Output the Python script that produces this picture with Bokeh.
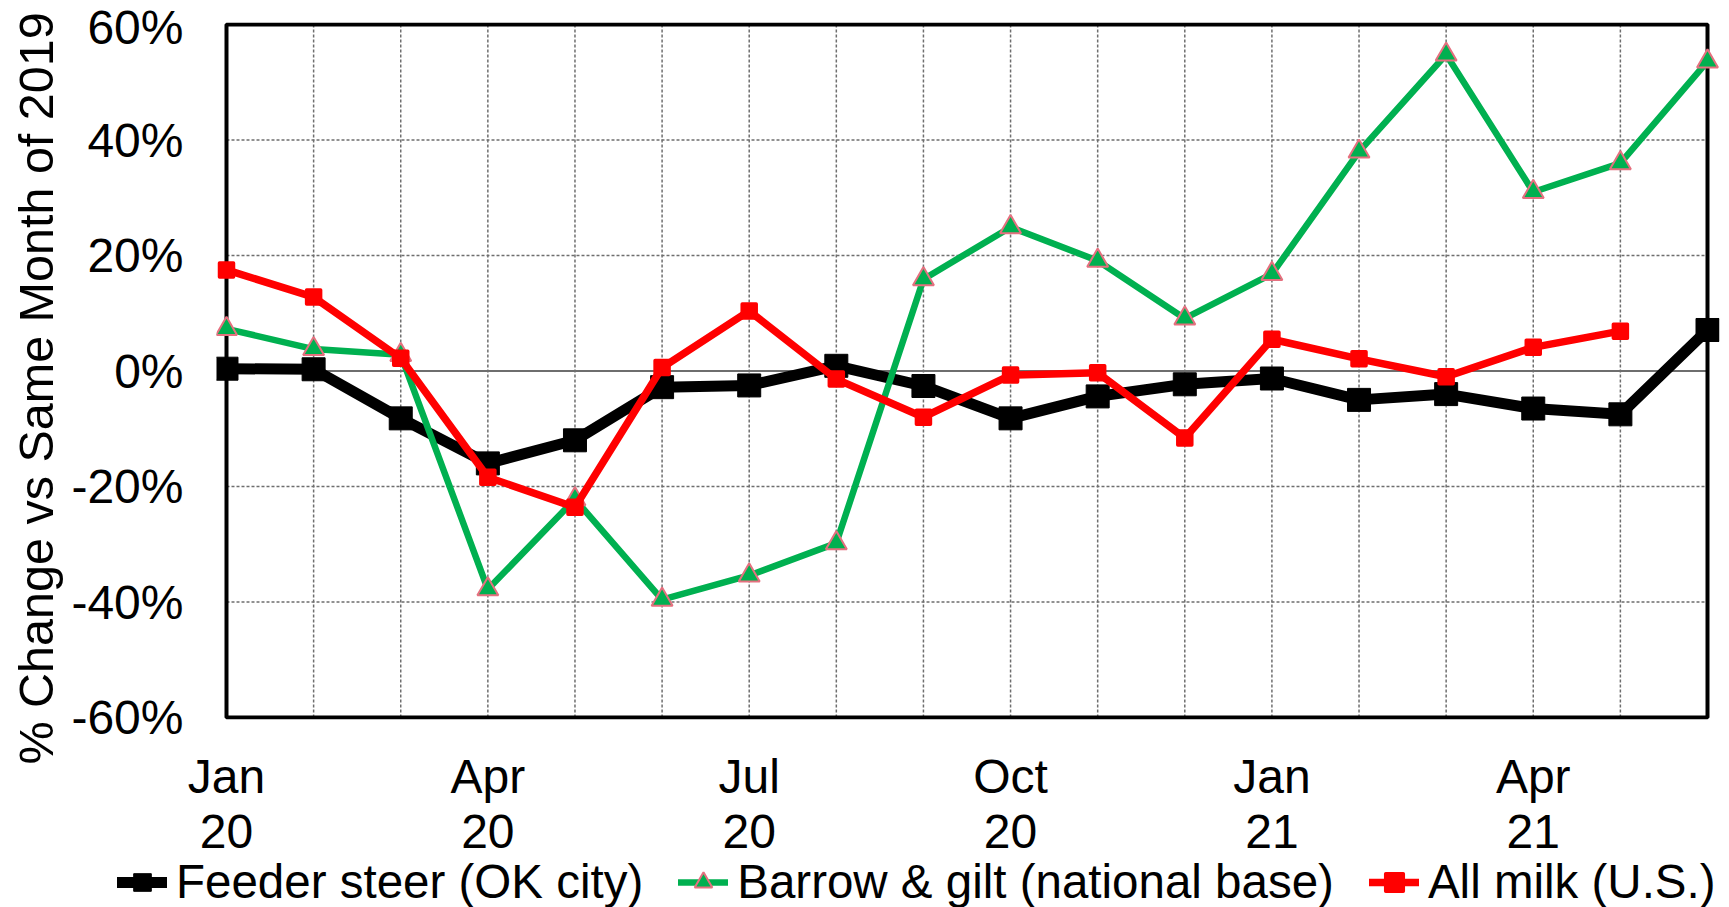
from bokeh.plotting import figure
from bokeh.models import FixedTicker, Legend, LegendItem, Range1d, Title
from bokeh.embed import file_html
from bokeh.resources import INLINE

# ---- data (percent change vs same month of 2019) ----
months = list(range(18))  # Jan 2020 .. Jun 2021
tick_pos = [0, 3, 6, 9, 12, 15]
tick_labels = ["Jan\n20", "Apr\n20", "Jul\n20", "Oct\n20", "Jan\n21", "Apr\n21"]
y_ticks = [-60, -40, -20, 0, 20, 40, 60]

feeder = [0.4, 0.3, -8.2, -16.0, -12.0, -2.8, -2.5, 0.9, -2.6, -8.2, -4.4, -2.3,
          -1.3, -5.0, -4.0, -6.5, -7.5, 7.1]
barrow = [7.3, 3.8, 2.8, -37.8, -22.2, -39.6, -35.4, -29.8, 15.9, 24.9, 19.1, 9.1,
          16.8, 38.0, 54.8, 31.0, 36.0, 53.6]
milk = [17.5, 12.8, 2.2, -18.4, -23.6, 0.6, 10.4, -1.4, -8.0, -0.7, -0.3, -11.6,
        5.5, 2.1, -1.0, 4.1, 6.9]
milk_months = months[:len(milk)]
series_names = ["Feeder steer (OK city)", "Barrow & gilt (national base)", "All milk (U.S.)"]
series = [(months, feeder), (months, barrow), (milk_months, milk)]

FONT = "Liberation Sans"
FS = "48px"
GRID = "#6e6e6e"

x0, x1 = months[0], months[-1]
y0, y1 = y_ticks[0], y_ticks[-1]
PXU_X = 87.12   # pixels per month
PXU_Y = 5.775   # pixels per percent

p = figure(width=1729, height=863,
           x_range=Range1d(x0 - 10 / PXU_X, x1 + 12 / PXU_X),
           y_range=Range1d(y0 - 2 / PXU_Y, y1 + 2 / PXU_Y),
           output_backend="svg", toolbar_location=None,
           min_border_left=216, min_border_right=10, min_border_top=22,
           min_border_bottom=144)
p.background_fill_color = "white"
p.border_fill_color = "white"
p.outline_line_color = None
p.grid.visible = False

# axes
xa = p.xaxis[0]
xa.ticker = FixedTicker(ticks=tick_pos)
xa.major_label_overrides = {t: l for t, l in zip(tick_pos, tick_labels)}
xa.major_label_text_line_height = 1.05
ya = p.yaxis[0]
ya.ticker = FixedTicker(ticks=y_ticks)
ya.major_label_overrides = {t: f"{t}%" for t in y_ticks}
for ax in (xa, ya):
    ax.axis_line_color = None
    ax.major_tick_line_color = None
    ax.minor_tick_line_color = None
    ax.major_tick_out = 0
    ax.major_tick_in = 0
    ax.minor_tick_out = 0
    ax.major_label_text_font = FONT
    ax.major_label_text_font_size = FS
    ax.major_label_text_color = "black"
ya.major_label_standoff = 33
xa.major_label_standoff = 30

ytitle = Title(text="% Change vs Same Month of 2019", text_font=FONT, text_font_size="48.5px",
               text_font_style="normal", text_color="black", align="left",
               vertical_align="middle", offset=-45, standoff=10)
p.add_layout(ytitle, "left")

# grid lines
vx = months[1:-1]
p.segment(x0=vx, y0=[y0] * len(vx), x1=vx, y1=[y1] * len(vx),
          line_color=GRID, line_width=1.5, line_dash="3 2")
hy = [t for t in y_ticks[1:-1] if t != 0]
p.segment(x0=[x0] * len(hy), y0=hy, x1=[x1] * len(hy), y1=hy,
          line_color=GRID, line_width=1.5, line_dash="3 2")
p.segment(x0=[x0], y0=[0], x1=[x1], y1=[0], line_color=GRID, line_width=2)
# plot box
p.quad(left=[x0], right=[x1], bottom=[y0], top=[y1], fill_color=None,
       line_color="black", line_width=4)

# series styles
STY = [
    dict(line=dict(line_color="black", line_width=11, line_join="round", line_cap="round"),
         mark=dict(marker="square", size=23, fill_color="black", line_color="black")),
    dict(line=dict(line_color="#00B050", line_width=6.5, line_join="round", line_cap="round"),
         mark=dict(marker="triangle", size=21, fill_color="#00B050", line_color="#E5707F", line_width=2)),
    dict(line=dict(line_color="#FF0000", line_width=7.5, line_join="round", line_cap="round"),
         mark=dict(marker="square", size=14, fill_color="#FF0000", line_color="#FF0000",
                   line_width=3.5, line_join="round")),
]
for (xs, ys), st in zip(series, STY):
    p.line(xs, ys, **st["line"])
    p.scatter(xs, ys, **st["mark"])

# ---- legend strip underneath (separate root so it is not frame-aligned) ----
pl = figure(width=1729, height=44, x_range=Range1d(1000, 1001), y_range=Range1d(1000, 1001),
            output_backend="svg", toolbar_location=None, x_axis_type=None, y_axis_type=None,
            min_border=0)
pl.outline_line_color = None
pl.grid.visible = False
pl.background_fill_color = "white"
pl.border_fill_color = "white"
items = []
for name, (xs, ys), st in zip(series_names, series, STY):
    lr = pl.line(xs, ys, **st["line"])   # out of view: only its legend swatch shows
    sr = pl.scatter(xs, ys, **st["mark"])
    items.append(LegendItem(label=name, renderers=[lr, sr]))

legend = Legend(items=items)
legend.orientation = "horizontal"
legend.location = (117, -2)
legend.label_text_font = FONT
legend.label_text_font_size = "47.5px"
legend.label_text_color = "black"
legend.glyph_width = 50
legend.glyph_height = 44
legend.label_standoff = 9
legend.spacing = 35
legend.padding = 0
legend.margin = 0
legend.border_line_alpha = 0
legend.background_fill_alpha = 0
pl.add_layout(legend)

open("out.html", "w").write(file_html([p, pl], INLINE))
